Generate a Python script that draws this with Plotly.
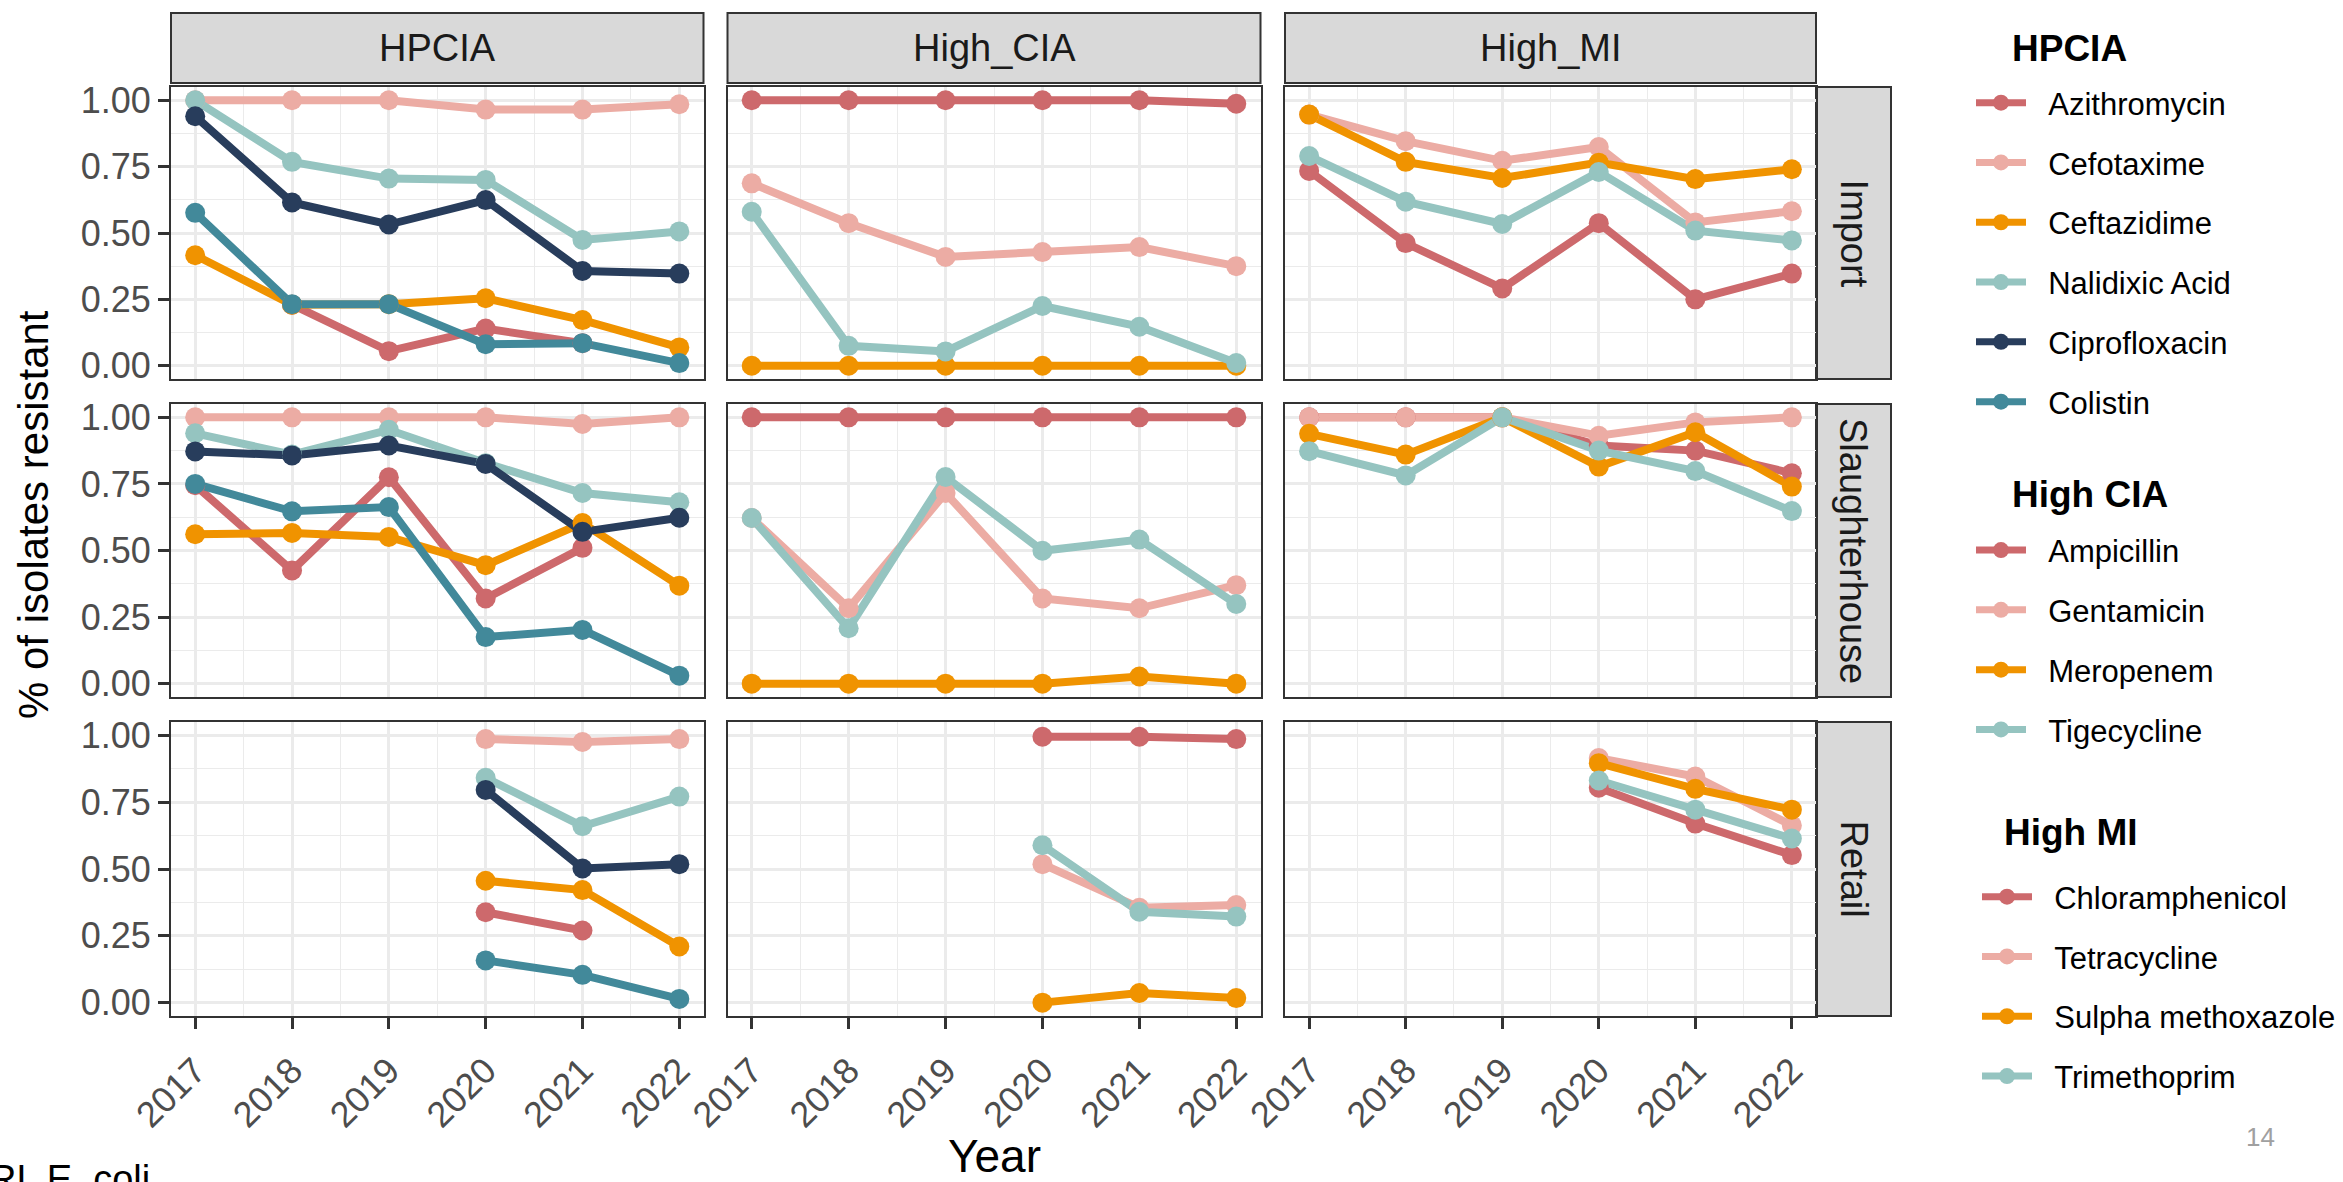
import plotly.graph_objects as go

# ---------------------------------------------------------------------------
# Data: share of E. coli isolates resistant, by year, source and antimicrobial
# ---------------------------------------------------------------------------
YEARS = [2017, 2018, 2019, 2020, 2021, 2022]
SOURCES = ["Import", "Slaughterhouse", "Retail"]
CLASSES = ["HPCIA", "High_CIA", "High_MI"]
CLASS_TITLES = ["HPCIA", "High CIA", "High MI"]

HPCIA_DRUGS = ["Azithromycin", "Cefotaxime", "Ceftazidime", "Nalidixic Acid",
               "Ciprofloxacin", "Colistin"]
HIGH_CIA_DRUGS = ["Ampicillin", "Gentamicin", "Meropenem", "Tigecycline"]
HIGH_MI_DRUGS = ["Chloramphenicol", "Tetracycline", "Sulpha methoxazole", "Trimethoprim"]

N = None

# HPCIA
azithromycin_import = [N, 0.23, 0.055, 0.14, 0.085, N]
azithromycin_slaughter = [0.745, 0.425, 0.775, 0.32, 0.51, N]
azithromycin_retail = [N, N, N, 0.338, 0.27, N]

cefotaxime_import = [1.00, 1.00, 1.00, 0.965, 0.965, 0.985]
cefotaxime_slaughter = [1.00, 1.00, 1.00, 1.00, 0.975, 1.00]
cefotaxime_retail = [N, N, N, 0.986, 0.975, 0.986]

ceftazidime_import = [0.416, 0.23, 0.232, 0.254, 0.172, 0.069]
ceftazidime_slaughter = [0.561, 0.566, 0.551, 0.445, 0.603, 0.368]
ceftazidime_retail = [N, N, N, 0.456, 0.421, 0.21]

nalidixic_import = [1.00, 0.768, 0.705, 0.70, 0.474, 0.506]
nalidixic_slaughter = [0.94, 0.86, 0.953, 0.828, 0.716, 0.681]
nalidixic_retail = [N, N, N, 0.841, 0.66, 0.771]

ciprofloxacin_import = [0.94, 0.615, 0.532, 0.624, 0.357, 0.347]
ciprofloxacin_slaughter = [0.872, 0.857, 0.894, 0.825, 0.57, 0.623]
ciprofloxacin_retail = [N, N, N, 0.796, 0.502, 0.518]

colistin_import = [0.576, 0.232, 0.232, 0.081, 0.085, 0.01]
colistin_slaughter = [0.75, 0.647, 0.663, 0.175, 0.202, 0.03]
colistin_retail = [N, N, N, 0.158, 0.104, 0.014]

# High CIA
ampicillin_import = [1.00, 1.00, 1.00, 1.00, 1.00, 0.987]
ampicillin_slaughter = [1.00, 1.00, 1.00, 1.00, 1.00, 1.00]
ampicillin_retail = [N, N, N, 0.995, 0.995, 0.986]

gentamicin_import = [0.687, 0.537, 0.41, 0.428, 0.447, 0.375]
gentamicin_slaughter = [0.622, 0.283, 0.716, 0.32, 0.283, 0.37]
gentamicin_retail = [N, N, N, 0.518, 0.355, 0.365]

meropenem_import = [0.0, 0.0, 0.0, 0.0, 0.0, 0.0]
meropenem_slaughter = [0.0, 0.0, 0.0, 0.0, 0.027, 0.0]
meropenem_retail = [N, N, N, 0.0, 0.036, 0.017]

tigecycline_import = [0.58, 0.075, 0.054, 0.225, 0.147, 0.01]
tigecycline_slaughter = [0.622, 0.208, 0.776, 0.499, 0.541, 0.299]
tigecycline_retail = [N, N, N, 0.589, 0.34, 0.322]

# High MI
chloramphenicol_import = [0.734, 0.462, 0.291, 0.537, 0.25, 0.347]
chloramphenicol_slaughter = [1.00, 1.00, 1.00, 0.894, 0.875, 0.79]
chloramphenicol_retail = [N, N, N, 0.804, 0.67, 0.552]

tetracycline_import = [0.946, 0.846, 0.772, 0.824, 0.54, 0.582]
tetracycline_slaughter = [1.00, 1.00, 1.00, 0.931, 0.981, 1.00]
tetracycline_retail = [N, N, N, 0.915, 0.846, 0.663]

sulpha_import = [0.946, 0.768, 0.707, 0.765, 0.703, 0.74]
sulpha_slaughter = [0.938, 0.86, 1.00, 0.815, 0.944, 0.74]
sulpha_retail = [N, N, N, 0.896, 0.80, 0.722]

trimethoprim_import = [0.79, 0.618, 0.534, 0.73, 0.509, 0.472]
trimethoprim_slaughter = [0.873, 0.782, 1.00, 0.875, 0.798, 0.648]
trimethoprim_retail = [N, N, N, 0.831, 0.722, 0.614]

# Colour of each drug, by its position inside its class
PALETTE = ["#CD696C", "#ECACA4", "#F09300", "#95C4C0", "#283D5C", "#42899A"]

# Lookup table built from the named series: class -> drug -> source -> values
SERIES = {
    "HPCIA": {
        "Azithromycin": [azithromycin_import, azithromycin_slaughter, azithromycin_retail],
        "Cefotaxime": [cefotaxime_import, cefotaxime_slaughter, cefotaxime_retail],
        "Ceftazidime": [ceftazidime_import, ceftazidime_slaughter, ceftazidime_retail],
        "Nalidixic Acid": [nalidixic_import, nalidixic_slaughter, nalidixic_retail],
        "Ciprofloxacin": [ciprofloxacin_import, ciprofloxacin_slaughter, ciprofloxacin_retail],
        "Colistin": [colistin_import, colistin_slaughter, colistin_retail],
    },
    "High_CIA": {
        "Ampicillin": [ampicillin_import, ampicillin_slaughter, ampicillin_retail],
        "Gentamicin": [gentamicin_import, gentamicin_slaughter, gentamicin_retail],
        "Meropenem": [meropenem_import, meropenem_slaughter, meropenem_retail],
        "Tigecycline": [tigecycline_import, tigecycline_slaughter, tigecycline_retail],
    },
    "High_MI": {
        "Chloramphenicol": [chloramphenicol_import, chloramphenicol_slaughter, chloramphenicol_retail],
        "Tetracycline": [tetracycline_import, tetracycline_slaughter, tetracycline_retail],
        "Sulpha methoxazole": [sulpha_import, sulpha_slaughter, sulpha_retail],
        "Trimethoprim": [trimethoprim_import, trimethoprim_slaughter, trimethoprim_retail],
    },
}
DRUG_LISTS = [HPCIA_DRUGS, HIGH_CIA_DRUGS, HIGH_MI_DRUGS]

# ---------------------------------------------------------------------------
# Layout geometry (pixels of a 2343 x 1182 canvas)
# ---------------------------------------------------------------------------
W, H = 2343, 1182
FONT = "Liberation Sans, Arial, sans-serif"
GRID = "#EBEBEB"
FRAME = "#333333"
STRIP_FILL = "#D9D9D9"

COL_X = [(171, 703.5), (727.5, 1260.5), (1285, 1816)]
ROW_Y = [(87, 379), (404, 697), (722, 1016)]
STRIP_TOP = (13, 83)
STRIP_RIGHT = (1816, 1891)

LINE_W = 8
MARKER_SIZE = 20


def px(x):
    return x / W


def py(y):
    return 1 - y / H


fig = go.Figure()


def axis_ids(r, c):
    k = r * 3 + c + 1
    s = "" if k == 1 else str(k)
    return "x" + s, "y" + s, "xaxis" + s, "yaxis" + s


# Lines first (all drugs), then points on top, panel by panel
for r, source in enumerate(SOURCES):
    for c, cls in enumerate(CLASSES):
        xid, yid, _, _ = axis_ids(r, c)
        drugs = DRUG_LISTS[c]
        for i, drug in enumerate(drugs):
            fig.add_trace(go.Scatter(
                x=YEARS, y=SERIES[cls][drug][r], mode="lines",
                line=dict(color=PALETTE[i], width=LINE_W),
                xaxis=xid, yaxis=yid, showlegend=False, hoverinfo="skip",
                connectgaps=False,
            ))
        for i, drug in enumerate(drugs):
            fig.add_trace(go.Scatter(
                x=YEARS, y=SERIES[cls][drug][r], mode="markers",
                marker=dict(color=PALETTE[i], size=MARKER_SIZE, line=dict(width=0)),
                xaxis=xid, yaxis=yid, showlegend=False, name=drug,
            ))

# Legend entries, one legend per antimicrobial class
LEGEND_IDS = ["legend", "legend2", "legend3"]
PAD = "\u00a0\u00a0"
for c, drugs in enumerate(DRUG_LISTS):
    for i, drug in enumerate(drugs):
        fig.add_trace(go.Scatter(
            x=[None], y=[None], mode="lines+markers", name=PAD + drug,
            line=dict(color=PALETTE[i], width=7),
            marker=dict(color=PALETTE[i], size=18, line=dict(width=0)),
            legend=LEGEND_IDS[c], legendgroup=drug, showlegend=True,
            xaxis="x", yaxis="y", hoverinfo="skip",
        ))

layout = dict(
    width=W, height=H,
    margin=dict(l=0, r=0, t=0, b=0, autoexpand=False),
    paper_bgcolor="white", plot_bgcolor="white",
    font=dict(family=FONT, color="black"),
    showlegend=True,
)

tick_font = dict(family=FONT, size=36, color="#4D4D4D")
for r in range(3):
    for c in range(3):
        xid, yid, xname, yname = axis_ids(r, c)
        bottom = r == 2
        left = c == 0
        layout[xname] = dict(
            domain=[px(COL_X[c][0]), px(COL_X[c][1])], anchor=yid,
            range=[2016.75, 2022.25], tickmode="linear", tick0=2017, dtick=1,
            showgrid=True, gridcolor=GRID, gridwidth=2.6, zeroline=False,
            minor=dict(tick0=2017, dtick=0.5, showgrid=True, gridcolor=GRID,
                       gridwidth=1.3, ticks=""),
            showline=True, linecolor=FRAME, linewidth=2, mirror=True,
            ticks="outside" if bottom else "", ticklen=11, tickwidth=2.5,
            tickcolor=FRAME, showticklabels=bottom, tickangle=-45,
            ticklabelstandoff=6,
            tickfont=tick_font, fixedrange=True, automargin=False,
        )
        layout[yname] = dict(
            domain=[py(ROW_Y[r][1]), py(ROW_Y[r][0])], anchor=xid,
            range=[-0.05, 1.05], tickmode="linear", tick0=0, dtick=0.25,
            tickformat=".2f",
            showgrid=True, gridcolor=GRID, gridwidth=2.6, zeroline=False,
            minor=dict(tick0=0, dtick=0.125, showgrid=True, gridcolor=GRID,
                       gridwidth=1.3, ticks=""),
            showline=True, linecolor=FRAME, linewidth=2, mirror=True,
            ticks="outside" if left else "", ticklen=11, tickwidth=2.5,
            tickcolor=FRAME, showticklabels=left, ticklabelstandoff=0,
            tickfont=tick_font, fixedrange=True, automargin=False,
        )

# Legends
leg_common = dict(
    font=dict(family=FONT, size=31, color="black"),
    bgcolor="rgba(0,0,0,0)", itemwidth=50, tracegroupgap=16.5,
    traceorder="grouped", orientation="v", xanchor="left", yanchor="top",
    xref="container", yref="container",
    itemclick=False, itemdoubleclick=False,
)
layout["legend"] = dict(x=px(1971), y=py(76), **leg_common)
layout["legend2"] = dict(x=px(1971), y=py(523.4), **leg_common)
layout["legend3"] = dict(x=px(1977), y=py(870), **leg_common)

shapes = []
annotations = []

# Facet strips along the top (classes)
for c, cls in enumerate(CLASSES):
    x0, x1 = COL_X[c]
    shapes.append(dict(type="rect", xref="paper", yref="paper",
                       x0=px(x0), x1=px(x1), y0=py(STRIP_TOP[1]), y1=py(STRIP_TOP[0]),
                       fillcolor=STRIP_FILL, line=dict(color=FRAME, width=2), layer="below"))
    annotations.append(dict(text=cls, xref="paper", yref="paper",
                            x=px((x0 + x1) / 2), y=py((STRIP_TOP[0] + STRIP_TOP[1]) / 2),
                            showarrow=False, xanchor="center", yanchor="middle",
                            font=dict(family=FONT, size=38, color="#1A1A1A")))

# Facet strips down the right side (sources)
for r, source in enumerate(SOURCES):
    y0, y1 = ROW_Y[r]
    shapes.append(dict(type="rect", xref="paper", yref="paper",
                       x0=px(STRIP_RIGHT[0]), x1=px(STRIP_RIGHT[1]), y0=py(y1), y1=py(y0),
                       fillcolor=STRIP_FILL, line=dict(color=FRAME, width=2), layer="below"))
    annotations.append(dict(text=source, xref="paper", yref="paper",
                            x=px((STRIP_RIGHT[0] + STRIP_RIGHT[1]) / 2), y=py((y0 + y1) / 2),
                            showarrow=False, textangle=90, xanchor="center", yanchor="middle",
                            font=dict(family=FONT, size=38, color="#1A1A1A")))

# Axis titles
annotations.append(dict(text="% of isolates resistant", xref="paper", yref="paper",
                        x=px(33), y=py(515), showarrow=False, textangle=-90,
                        xanchor="center", yanchor="middle",
                        font=dict(family=FONT, size=42, color="black")))
annotations.append(dict(text="Year", xref="paper", yref="paper",
                        x=px(994), y=py(1156), showarrow=False,
                        xanchor="center", yanchor="middle",
                        font=dict(family=FONT, size=46, color="black")))

# Legend group headings
for title, (tx, ty) in zip(CLASS_TITLES, [(2010, 48), (2010, 494.5), (2002, 832.6)]):
    annotations.append(dict(text="<b>" + title + "</b>", xref="paper", yref="paper",
                            x=px(tx), y=py(ty), showarrow=False,
                            xanchor="left", yanchor="middle",
                            font=dict(family=FONT, size=37, color="black")))

# Slide footer text
annotations.append(dict(text="RL E. coli", xref="paper", yref="paper",
                        x=px(-13), y=py(1156), showarrow=False,
                        xanchor="left", yanchor="top",
                        font=dict(family=FONT, size=38, color="black")))
annotations.append(dict(text="14", xref="paper", yref="paper",
                        x=px(2260), y=py(1137), showarrow=False,
                        xanchor="center", yanchor="middle",
                        font=dict(family=FONT, size=26, color="#A0A0A0")))

layout["shapes"] = shapes
layout["annotations"] = annotations
fig.update_layout(**layout)

fig.write_html("out.html")
